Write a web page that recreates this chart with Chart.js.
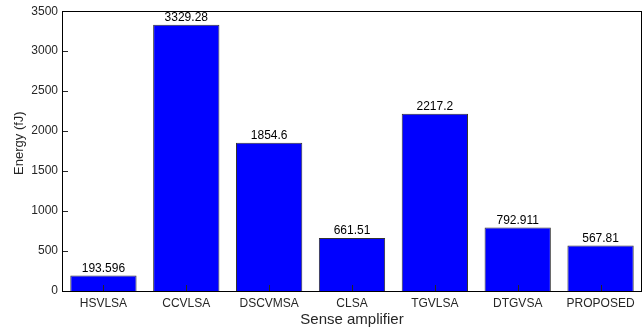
<!DOCTYPE html>
<html>
<head>
<meta charset="utf-8">
<script src="https://cdn.jsdelivr.net/npm/chart.js@4/dist/chart.umd.min.js"></script>
<style>
  html, body { margin: 0; padding: 0; background: #fff; }
  #wrap { width: 644px; height: 331px; }
</style>
</head>
<body>
<div id="wrap"><canvas id="c" width="644" height="331"></canvas></div>
<script>
const categories = ['HSVLSA', 'CCVLSA', 'DSCVMSA', 'CLSA', 'TGVLSA', 'DTGVSA', 'PROPOSED'];
const energy = [193.596, 3329.28, 1854.6, 661.51, 2217.2, 792.911, 567.81];
const energyLabels = ['193.596', '3329.28', '1854.6', '661.51', '2217.2', '792.911', '567.81'];
const yTicks = [0, 500, 1000, 1500, 2000, 2500, 3000, 3500];
const yTitle = 'Energy (fJ)';

const INK = '#262626';
const FONT = 'Liberation Sans, Arial, Helvetica, sans-serif';

// Box frame, inward tick marks, value labels and the y-axis title
const framePlugin = {
  id: 'frame',
  afterDatasetsDraw(chart) {
    const { ctx, chartArea: a, scales } = chart;
    ctx.save();
    ctx.strokeStyle = INK;
    ctx.lineWidth = 1;
    ctx.beginPath();
    yTicks.forEach(v => {
      const y = Math.round(scales.y.getPixelForValue(v)) + 0.5;
      ctx.moveTo(a.left, y); ctx.lineTo(a.left + 6, y);
    });
    categories.forEach((c, i) => {
      const x = Math.round(scales.x.getPixelForValue(i)) + 0.5;
      ctx.moveTo(x, a.bottom); ctx.lineTo(x, a.bottom - 6);
    });
    ctx.stroke();
    ctx.strokeStyle = '#000';
    ctx.strokeRect(Math.round(a.left) + 0.5, Math.round(a.top) + 0.5,
                   Math.round(a.right - a.left) - 1, Math.round(a.bottom - a.top));
    ctx.fillStyle = '#000';
    ctx.font = '12px ' + FONT;
    ctx.textAlign = 'center';
    ctx.textBaseline = 'bottom';
    const meta = chart.getDatasetMeta(0);
    meta.data.forEach((bar, i) => {
      ctx.fillText(energyLabels[i], bar.x, bar.y - 1);
    });
    // rotated y-axis title, sitting a little above the axis middle
    ctx.fillStyle = INK;
    ctx.font = '13px ' + FONT;
    ctx.textBaseline = 'middle';
    ctx.translate(19, scales.y.getPixelForValue(1850));
    ctx.rotate(-Math.PI / 2);
    ctx.fillText(yTitle, 0, 0);
    ctx.restore();
  }
};

new Chart(document.getElementById('c'), {
  type: 'bar',
  data: {
    labels: categories,
    datasets: [{
      data: energy,
      backgroundColor: '#0000ff',
      borderColor: '#333333',
      borderWidth: 1,
      categoryPercentage: 0.8,
      barPercentage: 1.0
    }]
  },
  options: {
    responsive: false,
    animation: false,
    devicePixelRatio: 1,
    layout: { padding: { top: 10, right: 2, left: 0, bottom: 0 } },
    plugins: { legend: { display: false }, tooltip: { enabled: false } },
    scales: {
      x: {
        grid: { display: false, drawTicks: false },
        border: { display: false },
        ticks: { color: INK, font: { family: FONT, size: 12 }, padding: 5, maxRotation: 0 },
        title: { display: true, text: 'Sense amplifier', color: INK, font: { family: FONT, size: 15 }, padding: { top: 0, bottom: 2 } },
        afterFit(s) { s.height = 40; }
      },
      y: {
        min: 0, max: 3500,
        grid: { display: false, drawTicks: false },
        border: { display: false },
        afterBuildTicks(s) { s.ticks = yTicks.map(v => ({ value: v })); },
        ticks: { color: INK, font: { family: FONT, size: 12 }, padding: 4, callback: v => String(v) },
        afterFit(s) { s.width = 62; }
      }
    }
  },
  plugins: [framePlugin]
});
</script>
</body>
</html>
